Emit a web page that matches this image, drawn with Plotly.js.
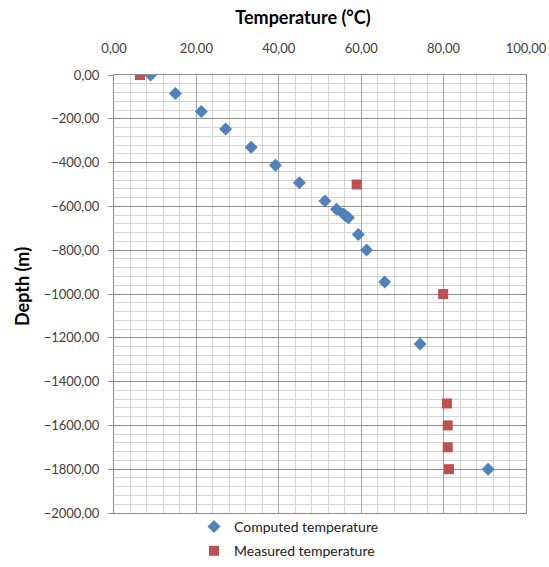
<!DOCTYPE html>
<html>
<head>
<meta charset="utf-8">
<script src="https://cdn.plot.ly/plotly-3.0.1.min.js"></script>
<style>html,body{margin:0;padding:0;background:#fff;}#chart{width:549px;height:567px;}</style>
</head>
<body>
<div id="chart"></div>
<script>
const computedTemp = [8.9, 14.9, 21.2, 27.1, 33.3, 39.2, 45.0, 51.2, 54.0, 55.7, 56.3, 56.9, 59.3, 61.3, 65.7, 74.3, 90.8];
const computedDepth = [0, -85, -167, -247, -330, -412, -492, -575, -613, -635, -644, -652, -728, -799, -945, -1228, -1800];
const measuredTemp = [6.3, 58.9, 79.9, 80.8, 81.0, 81.0, 81.3];
const measuredDepth = [0, -500, -1000, -1500, -1600, -1700, -1800];

const FONT = 'Lato, "Open Sans", sans-serif';

const traces = [
  {x: computedTemp, y: computedDepth, mode: 'markers', type: 'scatter', name: 'Computed temperature',
   legendgroup: 'a', marker: {symbol: 'diamond', size: 10, color: '#4F81BD'}},
  {x: measuredTemp, y: measuredDepth, mode: 'markers', type: 'scatter', name: 'Measured temperature',
   legendgroup: 'b', marker: {symbol: 'square', size: 10, color: '#C0504D'}}
];

// plot area: x 114..526, y 75..513; bottom margin 0 with domain so the legend sits inside the paper
const layout = {
  width: 549, height: 567,
  margin: {l: 114, r: 23, t: 75, b: 0},
  paper_bgcolor: '#fff', plot_bgcolor: '#fff',
  separators: ',.',
  font: {family: FONT, size: 13, color: '#404040'},
  title: {text: '<b>Temperature (°C)</b>', font: {family: FONT, size: 18, color: '#000'},
          x: (303 - 114) / 412, xanchor: 'center', y: 1 - 18/567, yanchor: 'middle', xref: 'paper'},
  xaxis: {range: [0, 100], side: 'top', dtick: 20, tick0: 0, tickformat: '.2f',
          showgrid: true, gridcolor: '#a6a6a6', gridwidth: 1,
          minor: {dtick: 4, showgrid: true, gridcolor: '#d4d4d4', gridwidth: 1},
          showline: true, linecolor: '#8c8c8c', mirror: true, zeroline: false,
          ticks: '', ticklabelstandoff: 16, fixedrange: true, automargin: false},
  yaxis: {range: [-2000, 0], dtick: 200, tick0: 0, tickformat: '.2f', domain: [54/492, 1],
          showgrid: true, gridcolor: '#8c8c8c', gridwidth: 1,
          minor: {dtick: 40, showgrid: true, gridcolor: '#d4d4d4', gridwidth: 1},
          showline: true, linecolor: '#8c8c8c', mirror: true, zeroline: false,
          ticks: 'outside', ticklen: 5, tickcolor: '#8c8c8c', ticklabelstandoff: 6, fixedrange: true, automargin: false},
  showlegend: true,
  legend: {x: (194 - 114) / 412, xanchor: 'left', y: 0, yanchor: 'bottom',
           orientation: 'v', font: {family: FONT, size: 14, color: '#222'}, tracegroupgap: 3, itemwidth: 30,
           bgcolor: 'rgba(0,0,0,0)'},
  annotations: [
    {text: '<b>Depth (m)</b>', textangle: -90, xref: 'paper', yref: 'paper',
     x: -(114 - 22) / 412, y: (567 - 287) / 492, xanchor: 'center', yanchor: 'middle', showarrow: false,
     font: {family: FONT, size: 18, color: '#000'}}
  ]
};

Plotly.newPlot('chart', traces, layout, {displayModeBar: false, staticPlot: true});
</script>
</body>
</html>
